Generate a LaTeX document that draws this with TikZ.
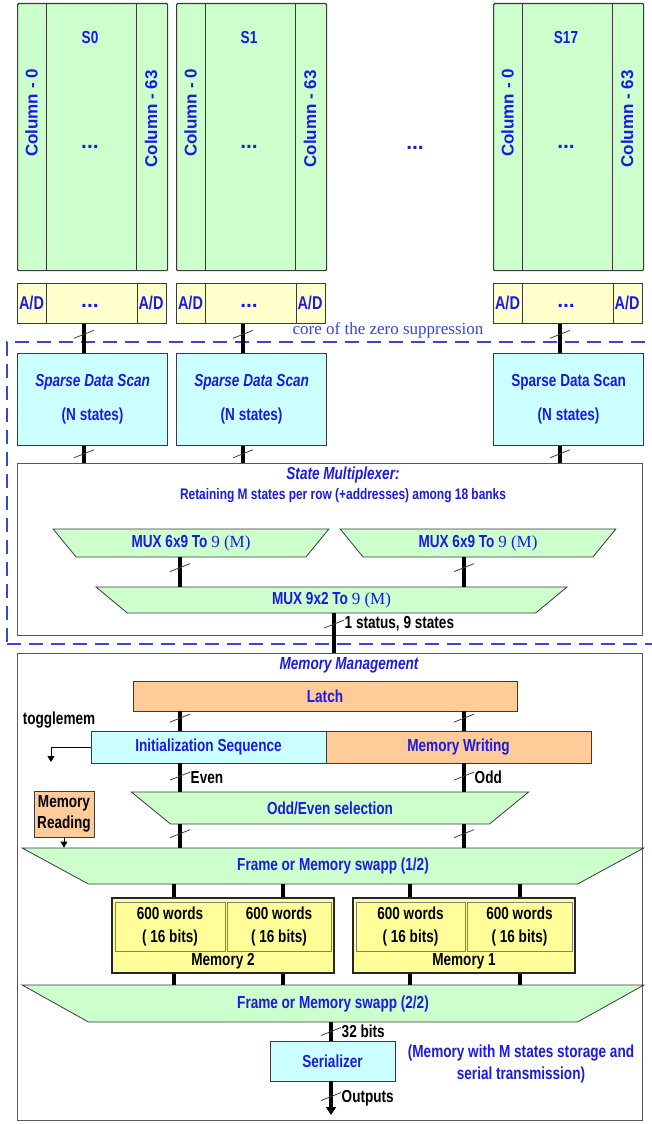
\documentclass[tikz,border=0pt]{standalone}
\usepackage{fontspec}
\setmainfont{Liberation Sans}
\newfontfamily\narrowsf{Liberation Sans}[FakeStretch=0.78]
\newfontfamily\serifnum{Liberation Serif}
\usepackage{xcolor}
\usetikzlibrary{shapes.geometric, arrows.meta, positioning, decorations.markings}

\definecolor{bankgreen}{HTML}{CCFFCC}
\definecolor{adyellow}{HTML}{FFFFCC}
\definecolor{scancyan}{HTML}{CCFFFF}
\definecolor{latchorange}{HTML}{FFCC99}
\definecolor{memyellow}{HTML}{FFFF99}
\definecolor{txtblue}{HTML}{1A1AE6}
\definecolor{coreblue}{HTML}{3545E0}
\definecolor{edgegray}{HTML}{3A3A3A}

\newcommand{\lblfont}{\narrowsf\bfseries\fontsize{17.4}{20}\selectfont}
\newcommand{\scanfont}{\narrowsf\bfseries\fontsize{17.4}{34}\selectfont}
\newcommand{\cellfont}{\narrowsf\bfseries\fontsize{17.4}{23}\selectfont}
\newcommand{\readfont}{\narrowsf\bfseries\fontsize{17.4}{21}\selectfont}
\newcommand{\mnotefont}{\narrowsf\bfseries\fontsize{17.4}{22}\selectfont}
\newcommand{\retainfont}{\narrowsf\bfseries\fontsize{15.3}{18}\selectfont}
\newcommand{\colfont}{\bfseries\fontsize{17}{20}\selectfont}
\newcommand{\adfont}{\narrowsf\bfseries\fontsize{18.5}{21}\selectfont}
\newcommand{\dotfont}{\bfseries\fontsize{21}{24}\selectfont}
\newcommand{\corefont}{\serifnum\fontsize{17}{20}\selectfont}
\newcommand{\muxnum}{\serifnum\mdseries\fontsize{17}{20}\selectfont}

\begin{document}
\begin{tikzpicture}[x=1pt, y=-1pt,
        bank/.style={draw=edgegray, fill=bankgreen, line width=1.2pt, rounded corners=1pt, inner sep=0pt, anchor=north west},
        adbar/.style={draw=edgegray, fill=adyellow, line width=1.2pt, inner sep=0pt, anchor=north west},
        divider/.style={draw=edgegray, line width=0.8pt},
        coltext/.style={text=txtblue, font=\colfont, inner sep=0pt},
        lbl/.style={text=txtblue, font=\lblfont, inner sep=1pt},
        note/.style={text=black, font=\lblfont, inner sep=1pt},
        scan/.style={draw=edgegray, fill=scancyan, line width=1.2pt, minimum width=150pt, minimum height=92pt, align=center, text=txtblue, font=\scanfont},
        frame/.style={draw=gray!70!black, line width=1pt, inner sep=0pt, anchor=north west},
        coreframe/.style={draw=coreblue, line width=1.6pt, dash pattern=on 14pt off 8pt, inner sep=0pt, anchor=north west},
        trap/.style={draw=edgegray, fill=bankgreen, line width=0.8pt, trapezium, shape border rotate=180, trapezium stretches=true, inner sep=0pt, text=txtblue, font=\lblfont},
        block/.style={draw=edgegray, line width=0.8pt, inner sep=0pt, text=txtblue, font=\lblfont},
        membox/.style={draw=black!85, fill=memyellow, line width=2pt, minimum width=222pt, minimum height=75pt, inner sep=0pt},
        memcell/.style={draw=gray, fill=memyellow, line width=0.8pt, inner sep=0pt, minimum height=49pt, align=center, font=\cellfont},
        bus/.style={line width=3.4pt},
        slash/.style={draw=gray!50!black, line width=0.8pt},
        slashed/.style={postaction={decorate}, decoration={markings, mark=at position #1 with {\draw[slash, -] (4pt,-10pt) -- (-4pt,10pt);}}},
        slashed/.default=0.4,
        arrowthin/.style={line width=0.8pt, -{Triangle[width=7pt,length=6pt]}}
    ]
        \useasboundingbox (0,0) rectangle (651,1124);

        \node (core) [coreframe, minimum width=652pt, minimum height=302pt] at (6,341) {};
        \node (coretitle) [text=coreblue, font=\corefont, inner sep=0pt] at (388,330) {core of the zero suppression};

        \node (statemux) [frame, fill=white, minimum width=625pt, minimum height=172pt] at (17,463) {};
        \node (smtitle) [lbl, font={\lblfont\itshape}] at (343,475) {State Multiplexer:};
        \node (smsub) [lbl, font=\retainfont] at (343,496) {Retaining M states per row (+addresses) among 18 banks};

        \foreach \x/\i/\f in {17/0/\itshape, 176/1/\itshape, 493/17/\upshape} {
            \node (bank\i) [bank, minimum width=150pt, minimum height=267pt] at (\x,3) {};
            \draw [divider] ([xshift=29pt]bank\i.north west) -- ([xshift=29pt]bank\i.south west);
            \draw [divider] ([xshift=-32pt]bank\i.north east) -- ([xshift=-32pt]bank\i.south east);
            \node (title\i) [lbl] at (\x+73,38) {S\i};
            \node (dots\i) [lbl, font=\dotfont] at (\x+73,147) {...};
            \node (colA\i) [coltext, rotate=90] at (\x+14.5,113) {Column - 0};
            \node (colB\i) [coltext, rotate=90] at (\x+134,119) {Column - 63};
            \node (ad\i) [adbar, minimum width=149pt, minimum height=40pt] at (\x,283) {};
            \draw [divider] ([xshift=29pt]ad\i.north west) -- ([xshift=29pt]ad\i.south west);
            \draw [divider] ([xshift=-30pt]ad\i.north east) -- ([xshift=-30pt]ad\i.south east);
            \node (adA\i) [lbl, font=\adfont] at (\x+14.5,303) {A/D};
            \node (adB\i) [lbl, font=\adfont] at (\x+134,303) {A/D};
            \node (adC\i) [lbl, font=\dotfont] at (\x+73,306) {...};
            \node (scan\i) [scan, anchor=north west] at (\x,353) {\f Sparse Data Scan\\(N states)};
            \coordinate (bx\i) at (\x+67,0);
            \draw [bus, slashed=0.35] (bx\i |- ad\i.south) -- (bx\i |- scan\i.north);
            \draw [bus, slashed=0.45] (bx\i |- scan\i.south) -- (bx\i |- statemux.north);
        }
        \node (bankdots) [lbl, font=\dotfont] at (415,148) {...};

        \coordinate (xa) at (180,0);
        \coordinate (xb) at (464,0);
        \coordinate (xo) at (334,0);
        \coordinate (xs) at (331,0);

        \node (muxA) [trap, minimum width=276pt, minimum height=28pt, trapezium angle=53] at (191,543) {MUX 6x9 To {\muxnum 9 (M)}};
        \node (muxB) [trap, minimum width=276pt, minimum height=28pt, trapezium angle=53] at (478,543) {MUX 6x9 To {\muxnum 9 (M)}};
        \node (muxC) [trap, minimum width=471pt, minimum height=26pt, trapezium angle=60] at (331.5,600) {MUX 9x2 To {\muxnum 9 (M)}};
        \draw [bus, slashed=0.35] (xa |- muxA.south) -- (xa |- muxC.north);
        \draw [bus, slashed=0.35] (xb |- muxB.south) -- (xb |- muxC.north);

        \node (memmgmt) [frame, minimum width=625pt, minimum height=467pt] at (17,653) {};
        \draw [bus, slashed=0.27] (xo |- muxC.south) -- node [note, pos=0.27, right, xshift=8pt] {1 status, 9 states} (xo |- memmgmt.north);
        \node (mmtitle) [lbl, font={\lblfont\itshape}] at (349,665) {Memory Management};

        \node (latch) [block, fill=latchorange, minimum width=384pt, minimum height=30pt] at (325,696) {Latch};
        \node (init) [block, fill=scancyan, minimum width=235pt, minimum height=32pt] at (208.5,747) {Initialization Sequence};
        \node (write) [block, fill=latchorange, minimum width=265pt, minimum height=32pt] at (458.5,747) {Memory Writing};
        \node (toggle) [note] at (59,720) {togglemem};
        \coordinate (togdown) at (51,762);
        \draw [arrowthin] (init.west) -| (togdown);
        \draw [bus, slashed=0.35] (xa |- latch.south) -- (xa |- init.north);
        \draw [bus, slashed=0.35] (xb |- latch.south) -- (xb |- write.north);

        \node (oddeven) [trap, minimum width=398pt, minimum height=32pt, trapezium angle=40] at (330,808) {Odd/Even selection};
        \draw [bus, slashed=0.45] (xa |- init.south) -- node [note, right, xshift=8pt] {Even} (xa |- oddeven.north);
        \draw [bus, slashed=0.45] (xb |- write.south) -- node [note, right, xshift=8pt] {Odd} (xb |- oddeven.north);

        \node (memread) [block, fill=latchorange, text=black, minimum width=60pt, minimum height=46pt, align=center, font=\readfont] at (64,814) {Memory\\Reading};
        \node (frameA) [trap, minimum width=622pt, minimum height=36pt, trapezium angle=32] at (333,866) {Frame or Memory swapp (1/2)};
        \node (frameB) [trap, minimum width=622pt, minimum height=37pt, trapezium angle=32] at (333,1003.5) {Frame or Memory swapp (2/2)};
        \draw [arrowthin] (memread.south) -- (memread.south |- frameA.north);
        \draw [bus, slashed] (xa |- oddeven.south) -- (xa |- frameA.north);
        \draw [bus, slashed] (xb |- oddeven.south) -- (xb |- frameA.north);

        \node (mem2) [membox] at (223,935.5) {};
        \node (mem2a) [memcell, minimum width=110pt] at (170,926.5) {600 words\\( 16 bits)};
        \node (mem2b) [memcell, minimum width=104pt] at (279,926.5) {600 words\\( 16 bits)};
        \node (mem2lbl) [note] at (223,961) {Memory 2};
        \node (mem1) [membox] at (464,935.5) {};
        \node (mem1a) [memcell, minimum width=109pt] at (410.5,926.5) {600 words\\( 16 bits)};
        \node (mem1b) [memcell, minimum width=105pt] at (519.5,926.5) {600 words\\( 16 bits)};
        \node (mem1lbl) [note] at (464,961) {Memory 1};
        \foreach \bx/\m in {174/mem2, 283/mem2, 410/mem1, 520/mem1} {
            \coordinate (tap) at (\bx,0);
            \draw [bus] (tap |- frameA.south) -- (tap |- \m.north);
            \draw [bus] (tap |- \m.south) -- (tap |- frameB.north);
        }

        \node (serial) [block, fill=scancyan, minimum width=125pt, minimum height=40pt] at (332.5,1061) {Serializer};
        \coordinate (outend) at (331,1115);
        \draw [bus, slashed=0.5] (xs |- frameB.south) -- node [note, right, xshift=8pt] {32 bits} (xs |- serial.north);
        \draw [bus, slashed=0.45, -{Triangle[width=10pt,length=8pt]}] (xs |- serial.south) -- node [note, right, xshift=8pt] {Outputs} (outend);
        \node (memnote) [lbl, align=center, font=\mnotefont] at (521,1064) {(Memory with M states storage and\\serial transmission)};
    \end{tikzpicture}
\end{document}
